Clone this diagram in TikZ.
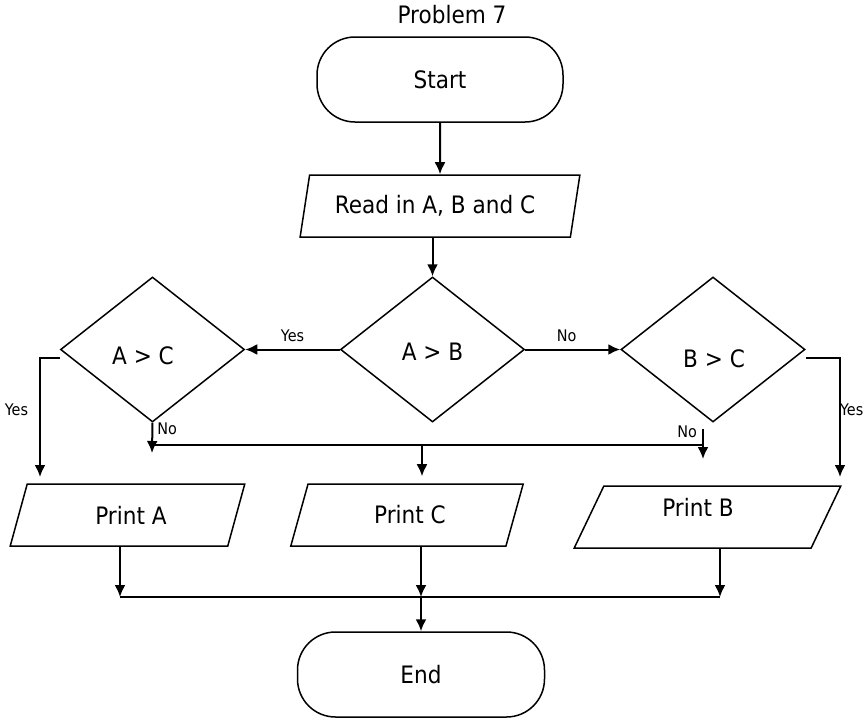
\documentclass[tikz,border=0pt]{standalone}
\usepackage{fontspec}
\setmainfont{DejaVu Sans}[FakeStretch=0.9]
\usetikzlibrary{arrows.meta, shapes.geometric}
\tikzset{
    terminal/.style={rectangle, draw, line width=1.5pt, rounded corners=38pt, minimum width=246pt, minimum height=85pt, inner sep=0pt},
    ioBox/.style={trapezium, draw, line width=1.5pt, trapezium left angle=70, trapezium right angle=110, trapezium stretches=true, minimum height=62pt, inner sep=0pt},
    decision/.style={diamond, draw, line width=1.5pt, minimum width=184pt, minimum height=145pt, inner sep=0pt},
    flowEdge/.style={->, >={Latex[length=12pt, width=11pt]}, line width=2pt},
    flowLine/.style={line width=2pt},
    flowLabel/.style={font=\fontsize{16}{18}\selectfont, inner sep=1pt},
}
% text set off the centre of its box: x offset, y offset (down), text
\newcommand{\offText}[3]{\raisebox{\dimexpr-#2-8.75pt\relax}[1pt][1pt]{\makebox[2pt]{\hspace*{#1}#3\hspace*{-#1}}}}

\begin{document}
\begin{tikzpicture}[x=1pt, y=-1pt, font=\fontsize{24}{28}\selectfont]
    \useasboundingbox (0,0) rectangle (868,720);

    \node (title) at (452,15) {Problem 7};
    \node[terminal] (start) at (440,79.5) {Start};
    \node[ioBox, minimum width=280pt] (read) at (440,206) {Read in A, B and C\hspace*{10pt}};

    \node[decision] (ac) at (152.5,349.5) {\offText{-9.5pt}{6.5pt}{A > C}};
    \node[decision] (ab) at (432.5,349.5) {\offText{0pt}{2.5pt}{A > B}};
    \node[decision] (bc) at (713,349.5) {\offText{1pt}{9.5pt}{B > C}};

    \node[ioBox, minimum width=235pt] (printa) at (127.5,515) {\hspace*{7pt}Print A};
    \node[ioBox, minimum width=234pt] (printc) at (407,515) {\hspace*{6pt}Print C};
    \node[ioBox, minimum width=267pt, text height=17.5pt, text depth=18pt] (printb) at (707.5,517) {Print B\hspace*{19pt}};

    \node[terminal, minimum width=247pt] (end) at (421,674.5) {End};

    % free ends of the branches
    \coordinate (acYes) at (40,477);
    \coordinate (bcYes) at (840,477);
    \coordinate (noL) at (150,445);
    \coordinate (noMid) at (422,445);
    \coordinate (noR) at (703,445);
    \coordinate (bcNo) at (703,429);
    \coordinate (bcNoEnd) at (703,459);
    \coordinate (acNoEnd) at (152,453);
    \coordinate (jA) at (120,597);
    \coordinate (jC) at (421,597);
    \coordinate (jB) at (720,597);

    \draw[flowEdge] (start) -- (read);
    \draw[flowEdge] (read.south -| ab.north) -- (ab.north);
    \draw[flowEdge] (ab.west) -- node[flowLabel, above=6pt] {Yes} (ac.east);
    \draw[flowEdge] (ab.east) -- node[flowLabel, above=6pt, xshift=-6pt] {No} (bc.west);

    \draw[flowEdge] ([yshift=-8pt]ac.west) -| node[flowLabel, pos=0.72, left=10pt] {Yes} (acYes);
    \draw[flowEdge] ([yshift=-8pt]bc.east) -| node[flowLabel, pos=0.72, right=-1pt, inner sep=0pt] {Yes} (bcYes);

    \draw[flowEdge] (ac.south) -- node[flowLabel, pos=0.2, right=3pt] {No} (acNoEnd);
    \draw[flowLine] (noL) -- (noR);
    \draw[flowEdge] (bcNo) -- node[flowLabel, pos=0.1, left=4pt] {No} (bcNoEnd);
    \draw[flowEdge] (noMid) -- ([yshift=7pt]printc.north -| noMid);

    \draw[flowEdge] (printa.south -| jA) -- (jA);
    \draw[flowEdge] (printc.south -| jC) -- (jC);
    \draw[flowEdge] (printb.south -| jB) -- (jB);
    \draw[flowLine] (jA) -- (jB);
    \draw[flowEdge] (jC) -- (end.north);

\end{tikzpicture}
\end{document}
